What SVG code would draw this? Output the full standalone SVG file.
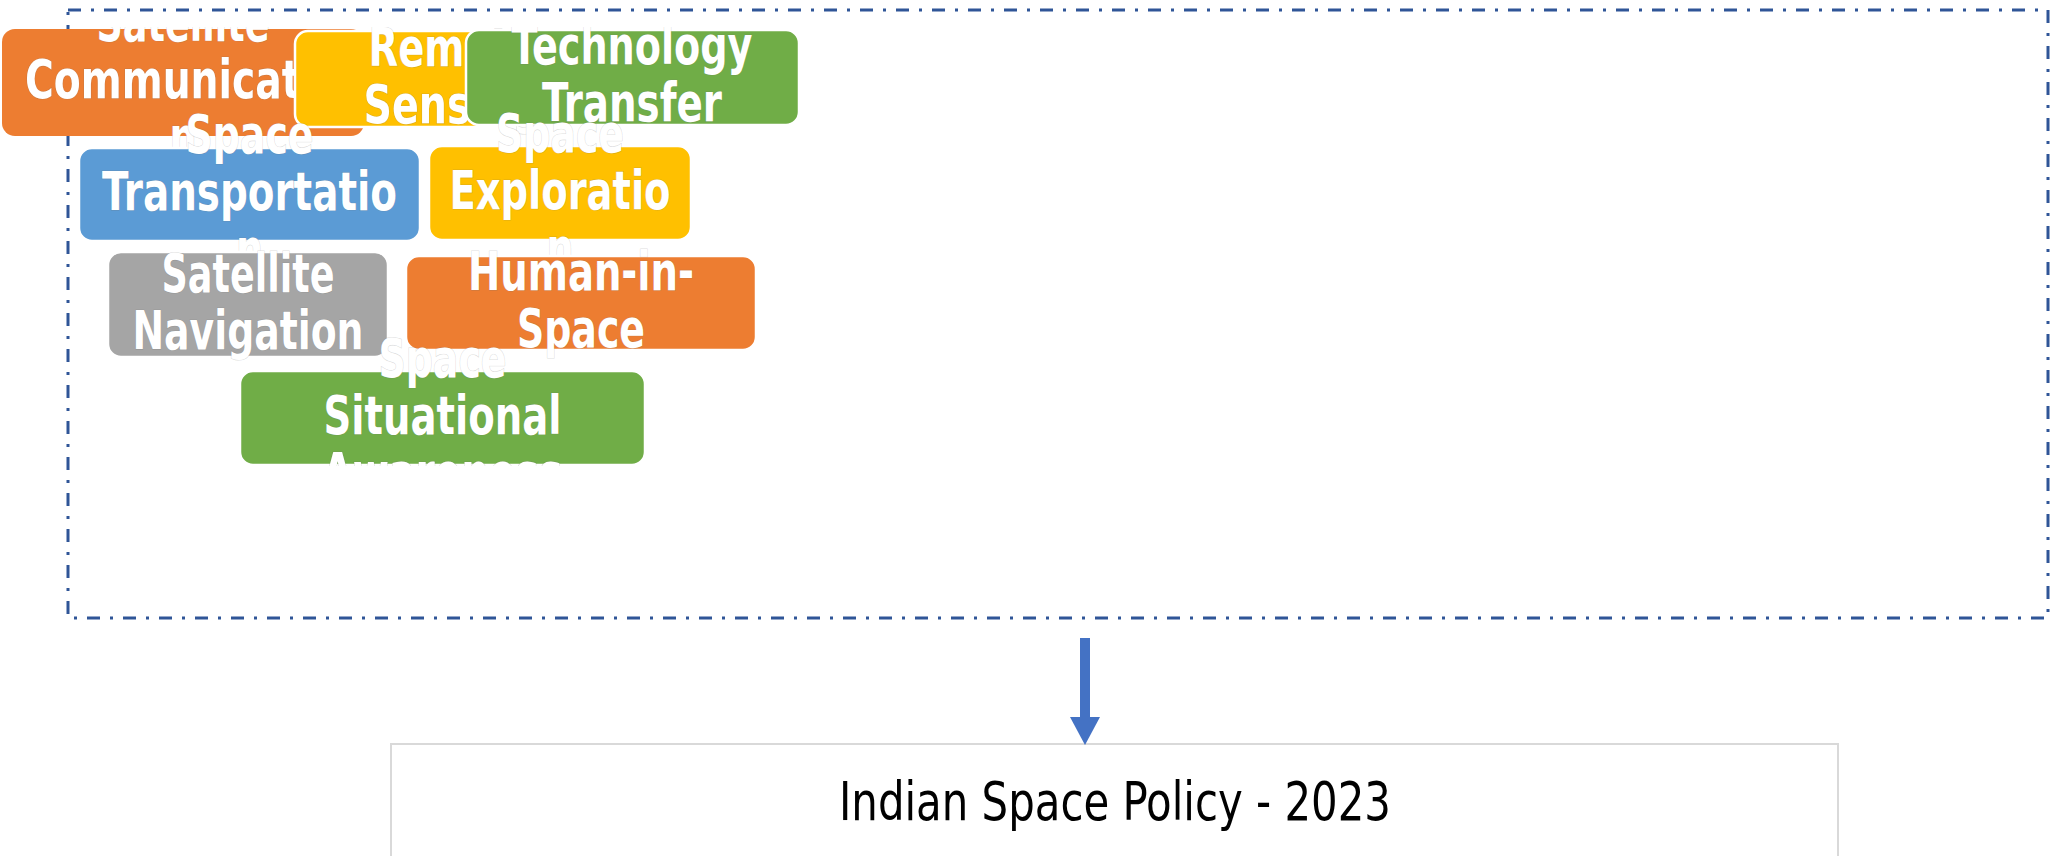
<svg xmlns="http://www.w3.org/2000/svg" width="2065" height="856" viewBox="0 0 2065 856">
  <style>
    .node rect { stroke: #ffffff; stroke-width: 2.5; }
    .lbl { font-family: "Liberation Sans Narrow", "DejaVu Sans Condensed", "Liberation Sans", sans-serif; font-stretch: condensed; font-weight: bold; font-size: 53px; fill: #ffffff; text-anchor: middle; stroke: rgba(110,110,110,0.25); stroke-width: 1.2px; paint-order: stroke; }
    .orange { fill: #ED7D31; }
    .yellow { fill: #FFC000; }
    .green { fill: #70AD47; }
    .blue { fill: #5B9BD5; }
    .gray { fill: #A5A5A5; }
    .frame { fill: none; stroke: #2F5597; stroke-width: 3; stroke-dasharray: 13 10 3 10; }
    .title { font-family: "Liberation Sans Narrow", "DejaVu Sans Condensed", "Liberation Sans", sans-serif; font-stretch: condensed; font-size: 53px; fill: #000000; text-anchor: middle; }
  </style>
  <defs>
    <marker id="arrowhead" markerUnits="userSpaceOnUse" markerWidth="30" markerHeight="30" refX="0" refY="15" orient="auto">
      <path d="M0,0 L28,15 L0,30 Z" fill="#4472C4"/>
    </marker>
    <clipPath id="nodeclip">
      <rect x="0" y="27" width="900" height="439"/>
    </clipPath>
  </defs>
  <rect x="0" y="0" width="2065" height="856" fill="#ffffff"/>

  <g id="frame">
    <rect class="frame" x="68" y="10" width="1980" height="608"/>
  </g>

  <g id="nodes" clip-path="url(#nodeclip)">
    <g id="node-satellite-communication" class="node">
      <rect class="orange" x="2" y="29" width="362" height="107" rx="13" style="stroke:none"/>
      <text class="lbl" x="183" y="41" textLength="173" lengthAdjust="spacingAndGlyphs">Satellite</text>
      <text class="lbl" x="183" y="98" textLength="316" lengthAdjust="spacingAndGlyphs">Communicatio</text>
      <text class="lbl" x="183" y="155" textLength="27" lengthAdjust="spacingAndGlyphs">n</text>
    </g>
    <g id="node-remote-sensing" class="node">
      <rect class="yellow" x="295" y="31" width="314" height="96" rx="13"/>
      <text class="lbl" x="452" y="66" textLength="167" lengthAdjust="spacingAndGlyphs">Remote</text>
      <text class="lbl" x="452" y="123" textLength="177" lengthAdjust="spacingAndGlyphs">Sensing</text>
    </g>
    <g id="node-technology-transfer" class="node">
      <rect class="green" x="466" y="30" width="333" height="95" rx="13"/>
      <text class="lbl" x="632" y="64" textLength="241" lengthAdjust="spacingAndGlyphs">Technology</text>
      <text class="lbl" x="632" y="121" textLength="180" lengthAdjust="spacingAndGlyphs">Transfer</text>
    </g>
    <g id="node-space-transportation" class="node">
      <rect class="blue" x="79" y="148" width="341" height="93" rx="13"/>
      <text class="lbl" x="249.5" y="153" textLength="128" lengthAdjust="spacingAndGlyphs">Space</text>
      <text class="lbl" x="249.5" y="210" textLength="295" lengthAdjust="spacingAndGlyphs">Transportatio</text>
      <text class="lbl" x="249.5" y="267" textLength="27" lengthAdjust="spacingAndGlyphs">n</text>
    </g>
    <g id="node-space-exploration" class="node">
      <rect class="yellow" x="429" y="146" width="262" height="94" rx="13"/>
      <text class="lbl" x="560" y="151.5" textLength="128" lengthAdjust="spacingAndGlyphs">Space</text>
      <text class="lbl" x="560" y="208.5" textLength="221" lengthAdjust="spacingAndGlyphs">Exploratio</text>
      <text class="lbl" x="560" y="265.5" textLength="27" lengthAdjust="spacingAndGlyphs">n</text>
    </g>
    <g id="node-satellite-navigation" class="node">
      <rect class="gray" x="108" y="252" width="280" height="105" rx="13"/>
      <text class="lbl" x="248" y="291.5" textLength="173" lengthAdjust="spacingAndGlyphs">Satellite</text>
      <text class="lbl" x="248" y="348.5" textLength="231" lengthAdjust="spacingAndGlyphs">Navigation</text>
    </g>
    <g id="node-human-in-space" class="node">
      <rect class="orange" x="406" y="256" width="350" height="94" rx="13"/>
      <text class="lbl" x="581" y="290" textLength="226" lengthAdjust="spacingAndGlyphs">Human-in-</text>
      <text class="lbl" x="581" y="347" textLength="128" lengthAdjust="spacingAndGlyphs">Space</text>
    </g>
    <g id="node-space-situational-awareness" class="node">
      <rect class="green" x="240" y="371" width="405" height="94" rx="13"/>
      <text class="lbl" x="442.5" y="376.5" textLength="128" lengthAdjust="spacingAndGlyphs">Space</text>
      <text class="lbl" x="442.5" y="433.5" textLength="238" lengthAdjust="spacingAndGlyphs">Situational</text>
      <text class="lbl" x="442.5" y="490.5" textLength="240" lengthAdjust="spacingAndGlyphs">Awareness</text>
    </g>
  </g>

  <g id="node-indian-space-policy">
    <rect x="391" y="744" width="1447" height="140" fill="#ffffff" stroke="#d9d9d9" stroke-width="2"/>
    <text class="title" x="1115" y="820" textLength="552" lengthAdjust="spacingAndGlyphs">Indian Space Policy - 2023</text>
  </g>

  <g id="connectors">
    <line x1="1085" y1="638" x2="1085" y2="717" stroke="#4472C4" stroke-width="10" marker-end="url(#arrowhead)"/>
  </g>
</svg>
